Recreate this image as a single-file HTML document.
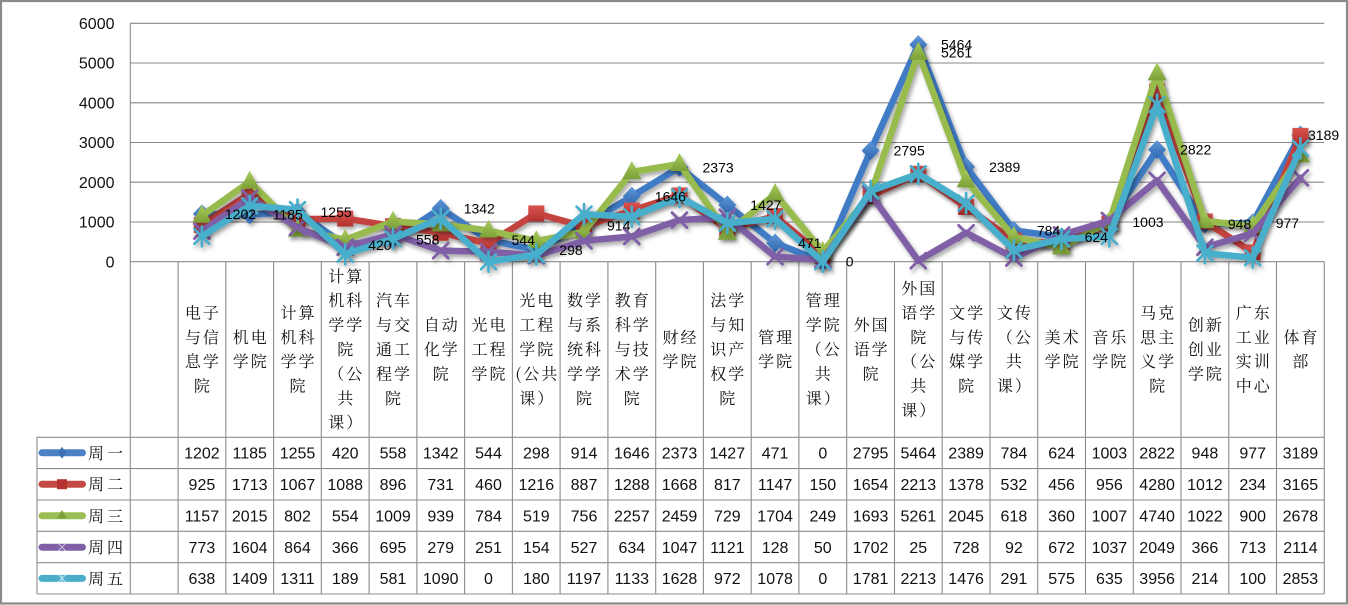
<!DOCTYPE html>
<html><head><meta charset="utf-8"><style>
html,body{margin:0;padding:0;background:#fff;}
svg{display:block;}
.ax{font-family:"Liberation Sans",sans-serif;font-size:16px;fill:#111;}
.lb{font-family:"Liberation Sans",sans-serif;font-size:14px;fill:#000;}
.num{font-family:"Liberation Sans",sans-serif;font-size:16px;fill:#111;}
.cn{font-family:"Noto Serif CJK SC","Liberation Serif",serif;font-size:16px;fill:#111;letter-spacing:2px;}
.lg{font-family:"Noto Serif CJK SC","Liberation Serif",serif;font-size:16px;fill:#111;letter-spacing:3px;}
</style></head><body>
<svg width="1348" height="605" viewBox="0 0 1348 605" xmlns="http://www.w3.org/2000/svg">
<defs>
<filter id="sh" filterUnits="userSpaceOnUse" x="0" y="0" width="1348" height="605">
<feGaussianBlur in="SourceAlpha" stdDeviation="2.2"/>
<feOffset dx="2" dy="3" result="o"/>
<feComponentTransfer><feFuncA type="linear" slope="0.35"/></feComponentTransfer>
<feMerge><feMergeNode/><feMergeNode in="SourceGraphic"/></feMerge>
</filter>
<linearGradient id="gb" x1="0" y1="0" x2="0" y2="1"><stop offset="0" stop-color="#5e97d9"/><stop offset="1" stop-color="#2f66ad"/></linearGradient>
<linearGradient id="gr" x1="0" y1="0" x2="0" y2="1"><stop offset="0" stop-color="#d9534f"/><stop offset="1" stop-color="#b2312d"/></linearGradient>
<linearGradient id="gg" x1="0" y1="0" x2="0" y2="1"><stop offset="0" stop-color="#a9cc5c"/><stop offset="1" stop-color="#7c9f38"/></linearGradient>
<g id="m1"><polygon points="0,-9.5 9,0 0,9.5 -9,0" fill="url(#gb)"/></g>
<g id="m2"><rect x="-8" y="-8" width="16" height="16" fill="url(#gr)"/></g>
<g id="m3"><polygon points="0,-11 9.5,7 -9.5,7" fill="url(#gg)"/></g>
<g id="m4"><path d="M-7.5,-7.5L7.5,7.5M-7.5,7.5L7.5,-7.5" stroke="#7f5ea6" stroke-width="2.8" fill="none"/></g>
<g id="m5"><path d="M-7.5,-7.5L7.5,7.5M-7.5,7.5L7.5,-7.5M0,-10L0,10" stroke="#47aecb" stroke-width="2.6" fill="none"/></g>
</defs>

<rect x="1" y="1" width="1346" height="602.5" fill="#fff" stroke="#8a8a8a" stroke-width="2.2"/>

<g stroke="#878787" stroke-width="1.1">
<line x1="130.3" y1="23.3" x2="1324.3" y2="23.3"/>
<line x1="130.3" y1="63.0" x2="1324.3" y2="63.0"/>
<line x1="130.3" y1="102.8" x2="1324.3" y2="102.8"/>
<line x1="130.3" y1="142.5" x2="1324.3" y2="142.5"/>
<line x1="130.3" y1="182.2" x2="1324.3" y2="182.2"/>
<line x1="130.3" y1="222.0" x2="1324.3" y2="222.0"/>
</g>

<g stroke="#8c8c8c" stroke-width="1.1">
<line x1="130.3" y1="23.3" x2="130.3" y2="594"/>
<line x1="130.3" y1="261.7" x2="1324.3" y2="261.7"/>
<line x1="37" y1="437.3" x2="1324.3" y2="437.3"/>
<line x1="37" y1="468.6" x2="1324.3" y2="468.6"/>
<line x1="37" y1="500" x2="1324.3" y2="500"/>
<line x1="37" y1="531.3" x2="1324.3" y2="531.3"/>
<line x1="37" y1="562.7" x2="1324.3" y2="562.7"/>
<line x1="37" y1="594" x2="1324.3" y2="594"/>
<line x1="37" y1="437.3" x2="37" y2="594"/>
<line x1="178.1" y1="261.7" x2="178.1" y2="594"/>
<line x1="225.8" y1="261.7" x2="225.8" y2="594"/>
<line x1="273.6" y1="261.7" x2="273.6" y2="594"/>
<line x1="321.3" y1="261.7" x2="321.3" y2="594"/>
<line x1="369.1" y1="261.7" x2="369.1" y2="594"/>
<line x1="416.9" y1="261.7" x2="416.9" y2="594"/>
<line x1="464.6" y1="261.7" x2="464.6" y2="594"/>
<line x1="512.4" y1="261.7" x2="512.4" y2="594"/>
<line x1="560.1" y1="261.7" x2="560.1" y2="594"/>
<line x1="607.9" y1="261.7" x2="607.9" y2="594"/>
<line x1="655.7" y1="261.7" x2="655.7" y2="594"/>
<line x1="703.4" y1="261.7" x2="703.4" y2="594"/>
<line x1="751.2" y1="261.7" x2="751.2" y2="594"/>
<line x1="798.9" y1="261.7" x2="798.9" y2="594"/>
<line x1="846.7" y1="261.7" x2="846.7" y2="594"/>
<line x1="894.5" y1="261.7" x2="894.5" y2="594"/>
<line x1="942.2" y1="261.7" x2="942.2" y2="594"/>
<line x1="990.0" y1="261.7" x2="990.0" y2="594"/>
<line x1="1037.7" y1="261.7" x2="1037.7" y2="594"/>
<line x1="1085.5" y1="261.7" x2="1085.5" y2="594"/>
<line x1="1133.3" y1="261.7" x2="1133.3" y2="594"/>
<line x1="1181.0" y1="261.7" x2="1181.0" y2="594"/>
<line x1="1228.8" y1="261.7" x2="1228.8" y2="594"/>
<line x1="1276.5" y1="261.7" x2="1276.5" y2="594"/>
<line x1="1324.3" y1="261.7" x2="1324.3" y2="594"/>
</g>

<g class="ax" text-anchor="end">
<text x="114.5" y="29.0">6000</text>
<text x="114.5" y="68.7">5000</text>
<text x="114.5" y="108.5">4000</text>
<text x="114.5" y="148.2">3000</text>
<text x="114.5" y="187.9">2000</text>
<text x="114.5" y="227.7">1000</text>
<text x="114.5" y="267.4">0</text>
</g>

<g fill="none" stroke-width="6.5" stroke-linejoin="round" stroke-linecap="round">
<g filter="url(#sh)">
<polyline stroke="#3f7cc6" points="201.9,213.9 249.7,214.6 297.5,211.8 345.2,245.0 393.0,239.5 440.7,208.4 488.5,240.1 536.3,249.9 584.0,225.4 631.8,196.3 679.5,167.4 727.3,205.0 775.1,243.0 822.8,261.7 870.6,150.6 918.3,44.6 966.1,166.8 1013.9,230.5 1061.6,236.9 1109.4,221.8 1157.1,149.6 1204.9,224.0 1252.7,222.9 1300.4,135.0"/>
<use href="#m1" x="201.9" y="213.9"/><use href="#m1" x="249.7" y="214.6"/><use href="#m1" x="297.5" y="211.8"/><use href="#m1" x="345.2" y="245.0"/><use href="#m1" x="393.0" y="239.5"/><use href="#m1" x="440.7" y="208.4"/><use href="#m1" x="488.5" y="240.1"/><use href="#m1" x="536.3" y="249.9"/><use href="#m1" x="584.0" y="225.4"/><use href="#m1" x="631.8" y="196.3"/><use href="#m1" x="679.5" y="167.4"/><use href="#m1" x="727.3" y="205.0"/><use href="#m1" x="775.1" y="243.0"/><use href="#m1" x="822.8" y="261.7"/><use href="#m1" x="870.6" y="150.6"/><use href="#m1" x="918.3" y="44.6"/><use href="#m1" x="966.1" y="166.8"/><use href="#m1" x="1013.9" y="230.5"/><use href="#m1" x="1061.6" y="236.9"/><use href="#m1" x="1109.4" y="221.8"/><use href="#m1" x="1157.1" y="149.6"/><use href="#m1" x="1204.9" y="224.0"/><use href="#m1" x="1252.7" y="222.9"/><use href="#m1" x="1300.4" y="135.0"/>
</g>
<g filter="url(#sh)">
<polyline stroke="#c4433f" points="201.9,224.9 249.7,193.6 297.5,219.3 345.2,218.5 393.0,226.1 440.7,232.7 488.5,243.4 536.3,213.4 584.0,226.5 631.8,210.5 679.5,195.4 727.3,229.2 775.1,216.1 822.8,255.7 870.6,196.0 918.3,173.8 966.1,207.0 1013.9,240.6 1061.6,243.6 1109.4,223.7 1157.1,91.6 1204.9,221.5 1252.7,252.4 1300.4,135.9"/>
<use href="#m2" x="201.9" y="224.9"/><use href="#m2" x="249.7" y="193.6"/><use href="#m2" x="297.5" y="219.3"/><use href="#m2" x="345.2" y="218.5"/><use href="#m2" x="393.0" y="226.1"/><use href="#m2" x="440.7" y="232.7"/><use href="#m2" x="488.5" y="243.4"/><use href="#m2" x="536.3" y="213.4"/><use href="#m2" x="584.0" y="226.5"/><use href="#m2" x="631.8" y="210.5"/><use href="#m2" x="679.5" y="195.4"/><use href="#m2" x="727.3" y="229.2"/><use href="#m2" x="775.1" y="216.1"/><use href="#m2" x="822.8" y="255.7"/><use href="#m2" x="870.6" y="196.0"/><use href="#m2" x="918.3" y="173.8"/><use href="#m2" x="966.1" y="207.0"/><use href="#m2" x="1013.9" y="240.6"/><use href="#m2" x="1061.6" y="243.6"/><use href="#m2" x="1109.4" y="223.7"/><use href="#m2" x="1157.1" y="91.6"/><use href="#m2" x="1204.9" y="221.5"/><use href="#m2" x="1252.7" y="252.4"/><use href="#m2" x="1300.4" y="135.9"/>
</g>
<g filter="url(#sh)">
<polyline stroke="#97bb4d" points="201.9,215.7 249.7,181.6 297.5,229.8 345.2,239.7 393.0,221.6 440.7,224.4 488.5,230.5 536.3,241.1 584.0,231.7 631.8,172.0 679.5,164.0 727.3,232.7 775.1,194.0 822.8,251.8 870.6,194.4 918.3,52.7 966.1,180.4 1013.9,237.1 1061.6,247.4 1109.4,221.7 1157.1,73.4 1204.9,221.1 1252.7,225.9 1300.4,155.3"/>
<use href="#m3" x="201.9" y="215.7"/><use href="#m3" x="249.7" y="181.6"/><use href="#m3" x="297.5" y="229.8"/><use href="#m3" x="345.2" y="239.7"/><use href="#m3" x="393.0" y="221.6"/><use href="#m3" x="440.7" y="224.4"/><use href="#m3" x="488.5" y="230.5"/><use href="#m3" x="536.3" y="241.1"/><use href="#m3" x="584.0" y="231.7"/><use href="#m3" x="631.8" y="172.0"/><use href="#m3" x="679.5" y="164.0"/><use href="#m3" x="727.3" y="232.7"/><use href="#m3" x="775.1" y="194.0"/><use href="#m3" x="822.8" y="251.8"/><use href="#m3" x="870.6" y="194.4"/><use href="#m3" x="918.3" y="52.7"/><use href="#m3" x="966.1" y="180.4"/><use href="#m3" x="1013.9" y="237.1"/><use href="#m3" x="1061.6" y="247.4"/><use href="#m3" x="1109.4" y="221.7"/><use href="#m3" x="1157.1" y="73.4"/><use href="#m3" x="1204.9" y="221.1"/><use href="#m3" x="1252.7" y="225.9"/><use href="#m3" x="1300.4" y="155.3"/>
</g>
<g filter="url(#sh)">
<polyline stroke="#7f5ea6" points="201.9,231.0 249.7,198.0 297.5,227.4 345.2,247.2 393.0,234.1 440.7,250.6 488.5,251.7 536.3,255.6 584.0,240.8 631.8,236.5 679.5,220.1 727.3,217.2 775.1,256.6 822.8,259.7 870.6,194.1 918.3,260.7 966.1,232.8 1013.9,258.0 1061.6,235.0 1109.4,220.5 1157.1,180.3 1204.9,247.2 1252.7,233.4 1300.4,177.7"/>
<use href="#m4" x="201.9" y="231.0"/><use href="#m4" x="249.7" y="198.0"/><use href="#m4" x="297.5" y="227.4"/><use href="#m4" x="345.2" y="247.2"/><use href="#m4" x="393.0" y="234.1"/><use href="#m4" x="440.7" y="250.6"/><use href="#m4" x="488.5" y="251.7"/><use href="#m4" x="536.3" y="255.6"/><use href="#m4" x="584.0" y="240.8"/><use href="#m4" x="631.8" y="236.5"/><use href="#m4" x="679.5" y="220.1"/><use href="#m4" x="727.3" y="217.2"/><use href="#m4" x="775.1" y="256.6"/><use href="#m4" x="822.8" y="259.7"/><use href="#m4" x="870.6" y="194.1"/><use href="#m4" x="918.3" y="260.7"/><use href="#m4" x="966.1" y="232.8"/><use href="#m4" x="1013.9" y="258.0"/><use href="#m4" x="1061.6" y="235.0"/><use href="#m4" x="1109.4" y="220.5"/><use href="#m4" x="1157.1" y="180.3"/><use href="#m4" x="1204.9" y="247.2"/><use href="#m4" x="1252.7" y="233.4"/><use href="#m4" x="1300.4" y="177.7"/>
</g>
<g filter="url(#sh)">
<polyline stroke="#47aecb" points="201.9,236.4 249.7,205.7 297.5,209.6 345.2,254.2 393.0,238.6 440.7,218.4 488.5,261.7 536.3,254.6 584.0,214.1 631.8,216.7 679.5,197.0 727.3,223.1 775.1,218.9 822.8,261.7 870.6,190.9 918.3,173.8 966.1,203.1 1013.9,250.1 1061.6,238.9 1109.4,236.5 1157.1,104.5 1204.9,253.2 1252.7,257.7 1300.4,148.3"/>
<use href="#m5" x="201.9" y="236.4"/><use href="#m5" x="249.7" y="205.7"/><use href="#m5" x="297.5" y="209.6"/><use href="#m5" x="345.2" y="254.2"/><use href="#m5" x="393.0" y="238.6"/><use href="#m5" x="440.7" y="218.4"/><use href="#m5" x="488.5" y="261.7"/><use href="#m5" x="536.3" y="254.6"/><use href="#m5" x="584.0" y="214.1"/><use href="#m5" x="631.8" y="216.7"/><use href="#m5" x="679.5" y="197.0"/><use href="#m5" x="727.3" y="223.1"/><use href="#m5" x="775.1" y="218.9"/><use href="#m5" x="822.8" y="261.7"/><use href="#m5" x="870.6" y="190.9"/><use href="#m5" x="918.3" y="173.8"/><use href="#m5" x="966.1" y="203.1"/><use href="#m5" x="1013.9" y="250.1"/><use href="#m5" x="1061.6" y="238.9"/><use href="#m5" x="1109.4" y="236.5"/><use href="#m5" x="1157.1" y="104.5"/><use href="#m5" x="1204.9" y="253.2"/><use href="#m5" x="1252.7" y="257.7"/><use href="#m5" x="1300.4" y="148.3"/>
</g>
</g>

<g class="lb">
<text x="224.9" y="218.9">1202</text>
<text x="272.7" y="219.6">1185</text>
<text x="320.5" y="216.8">1255</text>
<text x="368.2" y="250.0">420</text>
<text x="416.0" y="244.5">558</text>
<text x="463.7" y="213.4">1342</text>
<text x="511.5" y="245.1">544</text>
<text x="559.3" y="254.9">298</text>
<text x="607.0" y="230.4">914</text>
<text x="654.8" y="201.3">1646</text>
<text x="702.5" y="172.4">2373</text>
<text x="750.3" y="210.0">1427</text>
<text x="798.1" y="248.0">471</text>
<text x="845.8" y="266.7">0</text>
<text x="893.6" y="155.6">2795</text>
<text x="941.0" y="49.6">5464</text>
<text x="941.0" y="57.7">5261</text>
<text x="989.1" y="171.8">2389</text>
<text x="1036.9" y="235.5">784</text>
<text x="1084.6" y="241.9">624</text>
<text x="1132.4" y="226.8">1003</text>
<text x="1180.1" y="154.6">2822</text>
<text x="1227.9" y="229.0">948</text>
<text x="1275.7" y="227.9">977</text>
<text x="1308.0" y="140.0">3189</text>
</g>

<g class="cn" text-anchor="middle">
<text><tspan x="202.9" y="318.4">电子</tspan><tspan x="202.9" y="342.8">与信</tspan><tspan x="202.9" y="367.2">息学</tspan><tspan x="202.9" y="391.6">院</tspan></text>
<text><tspan x="250.7" y="342.8">机电</tspan><tspan x="250.7" y="367.2">学院</tspan></text>
<text><tspan x="298.5" y="318.4">计算</tspan><tspan x="298.5" y="342.8">机科</tspan><tspan x="298.5" y="367.2">学学</tspan><tspan x="298.5" y="391.6">院</tspan></text>
<text><tspan x="346.2" y="281.8">计算</tspan><tspan x="346.2" y="306.2">机科</tspan><tspan x="346.2" y="330.6">学学</tspan><tspan x="346.2" y="355">院</tspan><tspan x="346.2" y="379.4">（公</tspan><tspan x="346.2" y="403.8">共</tspan><tspan x="346.2" y="428.2">课）</tspan></text>
<text><tspan x="394.0" y="306.2">汽车</tspan><tspan x="394.0" y="330.6">与交</tspan><tspan x="394.0" y="355">通工</tspan><tspan x="394.0" y="379.4">程学</tspan><tspan x="394.0" y="403.8">院</tspan></text>
<text><tspan x="441.7" y="330.6">自动</tspan><tspan x="441.7" y="355">化学</tspan><tspan x="441.7" y="379.4">院</tspan></text>
<text><tspan x="489.5" y="330.6">光电</tspan><tspan x="489.5" y="355">工程</tspan><tspan x="489.5" y="379.4">学院</tspan></text>
<text><tspan x="537.3" y="306.2">光电</tspan><tspan x="537.3" y="330.6">工程</tspan><tspan x="537.3" y="355">学院</tspan><tspan x="537.3" y="379.4">(公共</tspan><tspan x="537.3" y="403.8">课）</tspan></text>
<text><tspan x="585.0" y="306.2">数学</tspan><tspan x="585.0" y="330.6">与系</tspan><tspan x="585.0" y="355">统科</tspan><tspan x="585.0" y="379.4">学学</tspan><tspan x="585.0" y="403.8">院</tspan></text>
<text><tspan x="632.8" y="306.2">教育</tspan><tspan x="632.8" y="330.6">科学</tspan><tspan x="632.8" y="355">与技</tspan><tspan x="632.8" y="379.4">术学</tspan><tspan x="632.8" y="403.8">院</tspan></text>
<text><tspan x="680.5" y="342.8">财经</tspan><tspan x="680.5" y="367.2">学院</tspan></text>
<text><tspan x="728.3" y="306.2">法学</tspan><tspan x="728.3" y="330.6">与知</tspan><tspan x="728.3" y="355">识产</tspan><tspan x="728.3" y="379.4">权学</tspan><tspan x="728.3" y="403.8">院</tspan></text>
<text><tspan x="776.1" y="342.8">管理</tspan><tspan x="776.1" y="367.2">学院</tspan></text>
<text><tspan x="823.8" y="306.2">管理</tspan><tspan x="823.8" y="330.6">学院</tspan><tspan x="823.8" y="355">（公</tspan><tspan x="823.8" y="379.4">共</tspan><tspan x="823.8" y="403.8">课）</tspan></text>
<text><tspan x="871.6" y="330.6">外国</tspan><tspan x="871.6" y="355">语学</tspan><tspan x="871.6" y="379.4">院</tspan></text>
<text><tspan x="919.3" y="294">外国</tspan><tspan x="919.3" y="318.4">语学</tspan><tspan x="919.3" y="342.8">院</tspan><tspan x="919.3" y="367.2">（公</tspan><tspan x="919.3" y="391.6">共</tspan><tspan x="919.3" y="416">课）</tspan></text>
<text><tspan x="967.1" y="318.4">文学</tspan><tspan x="967.1" y="342.8">与传</tspan><tspan x="967.1" y="367.2">媒学</tspan><tspan x="967.1" y="391.6">院</tspan></text>
<text><tspan x="1014.9" y="318.4">文传</tspan><tspan x="1014.9" y="342.8">（公</tspan><tspan x="1014.9" y="367.2">共</tspan><tspan x="1014.9" y="391.6">课）</tspan></text>
<text><tspan x="1062.6" y="342.8">美术</tspan><tspan x="1062.6" y="367.2">学院</tspan></text>
<text><tspan x="1110.4" y="342.8">音乐</tspan><tspan x="1110.4" y="367.2">学院</tspan></text>
<text><tspan x="1158.1" y="318.4">马克</tspan><tspan x="1158.1" y="342.8">思主</tspan><tspan x="1158.1" y="367.2">义学</tspan><tspan x="1158.1" y="391.6">院</tspan></text>
<text><tspan x="1205.9" y="330.6">创新</tspan><tspan x="1205.9" y="355">创业</tspan><tspan x="1205.9" y="379.4">学院</tspan></text>
<text><tspan x="1253.7" y="318.4">广东</tspan><tspan x="1253.7" y="342.8">工业</tspan><tspan x="1253.7" y="367.2">实训</tspan><tspan x="1253.7" y="391.6">中心</tspan></text>
<text><tspan x="1301.4" y="342.8">体育</tspan><tspan x="1301.4" y="367.2">部</tspan></text>
</g>

<g stroke-width="7" stroke-linecap="round">
<line x1="42" y1="452.8" x2="82.5" y2="452.8" stroke="#4a80c4"/>
<line x1="42" y1="484.2" x2="82.5" y2="484.2" stroke="#c44a46"/>
<line x1="42" y1="515.8" x2="82.5" y2="515.8" stroke="#9bbd55"/>
<line x1="42" y1="547.2" x2="82.5" y2="547.2" stroke="#7f60a6"/>
<line x1="42" y1="578.4" x2="82.5" y2="578.4" stroke="#4aaeca"/>
</g>
<polygon points="62,446.8 66,452.8 62,458.8 58,452.8" fill="#3a6fb5"/>
<rect x="57" y="479.2" width="10" height="10" fill="#b7322e"/>
<polygon points="62,510 67,518.5 57,518.5" fill="#7c9f38"/>
<path d="M57.5,542.7L66.5,551.7M57.5,551.7L66.5,542.7" stroke="#fff" stroke-width="1" opacity="0.6"/>
<path d="M57.5,573.9L66.5,582.9M57.5,582.9L66.5,573.9M62,572.5L62,584.3" stroke="#fff" stroke-width="1" opacity="0.6"/>
<g class="lg">
<text x="88" y="458.8">周一</text>
<text x="88" y="490.2">周二</text>
<text x="88" y="521.8">周三</text>
<text x="88" y="553.2">周四</text>
<text x="88" y="584.4">周五</text>
</g>

<g class="num" text-anchor="middle">
<text y="458.5"><tspan x="201.9">1202</tspan><tspan x="249.7">1185</tspan><tspan x="297.5">1255</tspan><tspan x="345.2">420</tspan><tspan x="393.0">558</tspan><tspan x="440.7">1342</tspan><tspan x="488.5">544</tspan><tspan x="536.3">298</tspan><tspan x="584.0">914</tspan><tspan x="631.8">1646</tspan><tspan x="679.5">2373</tspan><tspan x="727.3">1427</tspan><tspan x="775.1">471</tspan><tspan x="822.8">0</tspan><tspan x="870.6">2795</tspan><tspan x="918.3">5464</tspan><tspan x="966.1">2389</tspan><tspan x="1013.9">784</tspan><tspan x="1061.6">624</tspan><tspan x="1109.4">1003</tspan><tspan x="1157.1">2822</tspan><tspan x="1204.9">948</tspan><tspan x="1252.7">977</tspan><tspan x="1300.4">3189</tspan></text>
<text y="489.9"><tspan x="201.9">925</tspan><tspan x="249.7">1713</tspan><tspan x="297.5">1067</tspan><tspan x="345.2">1088</tspan><tspan x="393.0">896</tspan><tspan x="440.7">731</tspan><tspan x="488.5">460</tspan><tspan x="536.3">1216</tspan><tspan x="584.0">887</tspan><tspan x="631.8">1288</tspan><tspan x="679.5">1668</tspan><tspan x="727.3">817</tspan><tspan x="775.1">1147</tspan><tspan x="822.8">150</tspan><tspan x="870.6">1654</tspan><tspan x="918.3">2213</tspan><tspan x="966.1">1378</tspan><tspan x="1013.9">532</tspan><tspan x="1061.6">456</tspan><tspan x="1109.4">956</tspan><tspan x="1157.1">4280</tspan><tspan x="1204.9">1012</tspan><tspan x="1252.7">234</tspan><tspan x="1300.4">3165</tspan></text>
<text y="521.5"><tspan x="201.9">1157</tspan><tspan x="249.7">2015</tspan><tspan x="297.5">802</tspan><tspan x="345.2">554</tspan><tspan x="393.0">1009</tspan><tspan x="440.7">939</tspan><tspan x="488.5">784</tspan><tspan x="536.3">519</tspan><tspan x="584.0">756</tspan><tspan x="631.8">2257</tspan><tspan x="679.5">2459</tspan><tspan x="727.3">729</tspan><tspan x="775.1">1704</tspan><tspan x="822.8">249</tspan><tspan x="870.6">1693</tspan><tspan x="918.3">5261</tspan><tspan x="966.1">2045</tspan><tspan x="1013.9">618</tspan><tspan x="1061.6">360</tspan><tspan x="1109.4">1007</tspan><tspan x="1157.1">4740</tspan><tspan x="1204.9">1022</tspan><tspan x="1252.7">900</tspan><tspan x="1300.4">2678</tspan></text>
<text y="552.9"><tspan x="201.9">773</tspan><tspan x="249.7">1604</tspan><tspan x="297.5">864</tspan><tspan x="345.2">366</tspan><tspan x="393.0">695</tspan><tspan x="440.7">279</tspan><tspan x="488.5">251</tspan><tspan x="536.3">154</tspan><tspan x="584.0">527</tspan><tspan x="631.8">634</tspan><tspan x="679.5">1047</tspan><tspan x="727.3">1121</tspan><tspan x="775.1">128</tspan><tspan x="822.8">50</tspan><tspan x="870.6">1702</tspan><tspan x="918.3">25</tspan><tspan x="966.1">728</tspan><tspan x="1013.9">92</tspan><tspan x="1061.6">672</tspan><tspan x="1109.4">1037</tspan><tspan x="1157.1">2049</tspan><tspan x="1204.9">366</tspan><tspan x="1252.7">713</tspan><tspan x="1300.4">2114</tspan></text>
<text y="584.1"><tspan x="201.9">638</tspan><tspan x="249.7">1409</tspan><tspan x="297.5">1311</tspan><tspan x="345.2">189</tspan><tspan x="393.0">581</tspan><tspan x="440.7">1090</tspan><tspan x="488.5">0</tspan><tspan x="536.3">180</tspan><tspan x="584.0">1197</tspan><tspan x="631.8">1133</tspan><tspan x="679.5">1628</tspan><tspan x="727.3">972</tspan><tspan x="775.1">1078</tspan><tspan x="822.8">0</tspan><tspan x="870.6">1781</tspan><tspan x="918.3">2213</tspan><tspan x="966.1">1476</tspan><tspan x="1013.9">291</tspan><tspan x="1061.6">575</tspan><tspan x="1109.4">635</tspan><tspan x="1157.1">3956</tspan><tspan x="1204.9">214</tspan><tspan x="1252.7">100</tspan><tspan x="1300.4">2853</tspan></text>
</g>
</svg>
</body></html>
